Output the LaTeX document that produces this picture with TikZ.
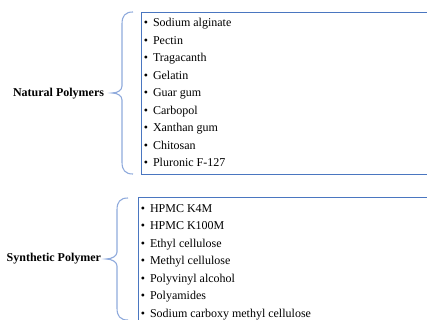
\documentclass[tikz,border=0pt]{standalone}
\usepackage{fontspec}
\setmainfont{Liberation Serif}
\definecolor{braceblue}{HTML}{8FAADC}
\definecolor{boxblue}{HTML}{4A76C0}
\begin{document}
\begin{tikzpicture}[x=1pt,y=-1pt,
  every node/.style={inner sep=0pt, outer sep=0pt, font=\fontsize{12}{14}\selectfont},
  heading/.style={anchor=base east, font=\fontsize{12}{14}\selectfont\bfseries},
  listbox/.style={draw=boxblue, line width=0.9pt, anchor=north west, minimum width=320pt},
  curly/.style={draw=braceblue, line width=1.1pt},
  bulletmark/.style={anchor=base},
  itemtext/.style={anchor=base west}]
\useasboundingbox (0,0) rectangle (427,320);
\clip (0,0) rectangle (427,320);

% natural polymers group
\node[heading] (nat) at (104,97) {Natural Polymers};
\node[listbox, minimum height=162pt] (natbox) at (141,12) {};
\path[curly] (133,12) .. controls (125,12) and (122,16) .. (122,24)
  -- (122,86) .. controls (122,90) and (118,93) .. (112,93)
  .. controls (118,93) and (122,96) .. (122,100)
  -- (122,162) .. controls (122,170) and (125,174) .. (133,174);
\foreach \txt [count=\i] in {Sodium alginate, Pectin, Tragacanth, Gelatin,
    Guar gum, Carbopol, Xanthan gum, Chitosan, Pluronic F-127} {
  \node[bulletmark] (nb\i) at (146,{27+(\i-1)*17.5}) {\textbullet};
  \node[itemtext] (ni\i) at (153,{27+(\i-1)*17.5}) {\txt};
}

% synthetic polymer group
\node[heading] (syn) at (101,261) {Synthetic Polymer};
\node[listbox, minimum height=160pt] (synbox) at (138,197) {};
\path[curly] (128,198) .. controls (120,198) and (117,202) .. (117,210)
  -- (117,252) .. controls (117,256) and (112,259) .. (106,259)
  .. controls (112,259) and (117,262) .. (117,266)
  -- (117,308) .. controls (117,316) and (120,320) .. (128,320);
\foreach \txt [count=\i] in {HPMC K4M, HPMC K100M, Ethyl cellulose,
    Methyl cellulose, Polyvinyl alcohol, Polyamides,
    Sodium carboxy methyl cellulose} {
  \node[bulletmark] (sb\i) at (143,{212+(\i-1)*17.5}) {\textbullet};
  \node[itemtext] (si\i) at (150,{212+(\i-1)*17.5}) {\txt};
}
\end{tikzpicture}
\end{document}
